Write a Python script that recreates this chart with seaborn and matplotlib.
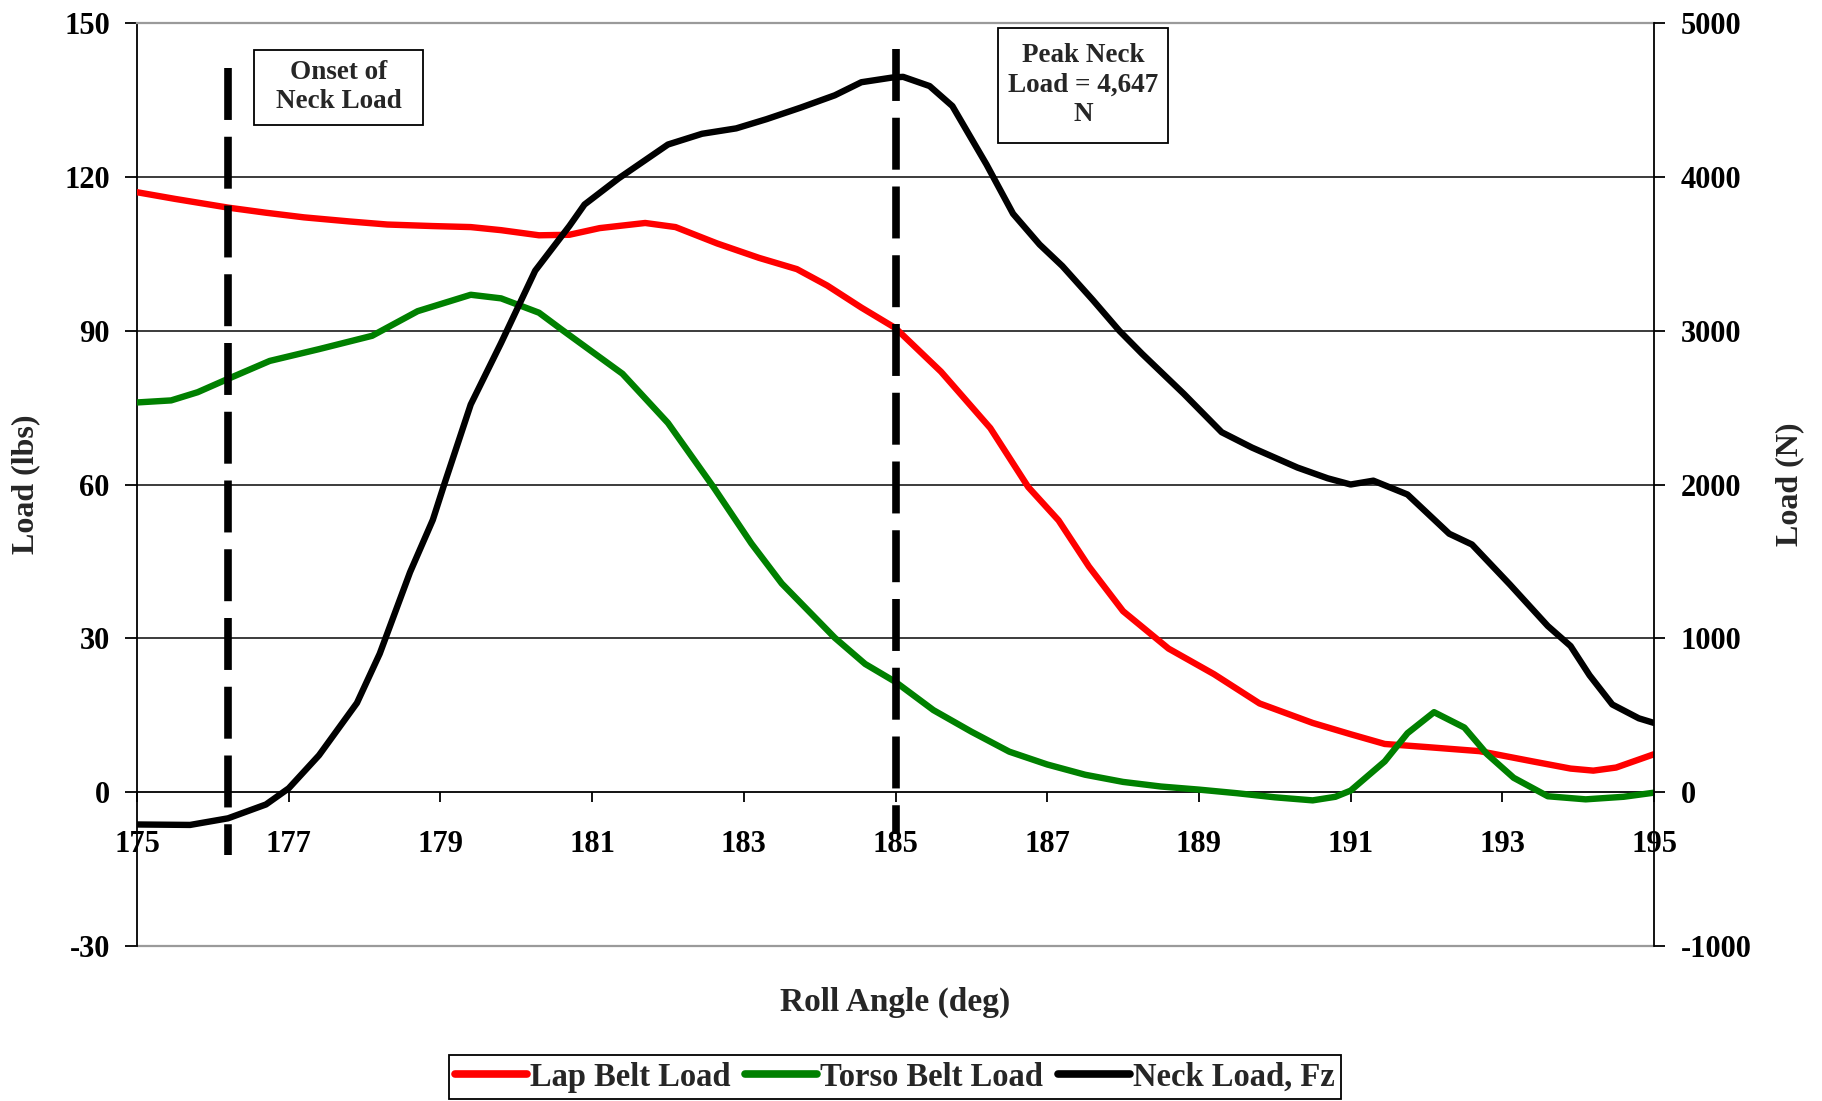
import numpy as np
import pandas as pd
import matplotlib
matplotlib.use("Agg")
import matplotlib.pyplot as plt
import seaborn as sns
from matplotlib.lines import Line2D
from matplotlib.patches import Rectangle

# ---------------- data ----------------
roll_lap = [175.0, 175.5, 176.2, 176.7, 177.2, 177.8, 178.3, 178.9, 179.4, 179.8,
            180.3, 180.7, 181.1, 181.7, 182.1, 182.65, 183.2, 183.7, 184.1, 184.55,
            185.0, 185.6, 186.25, 186.75, 187.15, 187.55, 188.0, 188.6, 189.2, 189.8,
            190.5, 191.0, 191.45, 192.0, 192.7, 193.4, 193.9, 194.2, 194.5, 195.0]
lap_lbs = [117.0, 115.7, 114.0, 113.0, 112.1, 111.3, 110.7, 110.4, 110.2, 109.6,
           108.6, 108.7, 110.0, 111.0, 110.2, 107.0, 104.2, 102.0, 98.8, 94.5,
           90.5, 82.0, 71.0, 59.5, 53.0, 44.0, 35.3, 28.0, 23.0, 17.3,
           13.5, 11.3, 9.4, 8.8, 8.0, 6.0, 4.6, 4.2, 4.8, 7.4]

roll_torso = [175.0, 175.45, 175.8, 176.2, 176.75, 177.4, 178.1, 178.7, 179.4, 179.8,
              180.3, 180.6, 181.4, 182.0, 182.6, 183.1, 183.5, 184.2, 184.6, 185.0,
              185.5, 186.0, 186.5, 187.0, 187.5, 188.0, 188.5, 189.0, 189.5, 190.0,
              190.5, 190.8, 191.0, 191.45, 191.75, 192.1, 192.5, 192.8, 193.15, 193.6,
              194.1, 194.6, 195.0]
torso_lbs = [76.0, 76.4, 78.0, 80.6, 84.1, 86.4, 89.0, 93.8, 97.0, 96.3,
             93.5, 90.2, 81.6, 72.0, 59.5, 48.5, 40.7, 30.1, 25.0, 21.5,
             16.0, 11.8, 7.9, 5.4, 3.4, 2.0, 1.1, 0.5, -0.2, -1.0,
             -1.6, -0.9, 0.3, 6.0, 11.5, 15.6, 12.6, 7.4, 2.8, -0.8,
             -1.4, -0.9, -0.1]

roll_neck = [175.0, 175.7, 176.2, 176.7, 177.0, 177.4, 177.9, 178.2, 178.6, 178.9,
             179.05, 179.4, 179.8, 180.25, 180.7, 180.9, 181.35, 182.0, 182.45, 182.9,
             183.3, 183.75, 184.2, 184.55, 184.95, 185.1, 185.45, 185.75, 186.2, 186.55,
             186.9, 187.2, 187.6, 187.95, 188.25, 188.8, 189.3, 189.7, 190.3, 190.7,
             191.0, 191.3, 191.75, 192.3, 192.6, 193.1, 193.6, 193.9, 194.15, 194.45,
             194.8, 195.0]
neck_n = [-210, -213, -170, -80, 25, 240, 580, 900, 1430, 1770,
          2000, 2520, 2920, 3390, 3680, 3820, 3990, 4210, 4280, 4315,
          4375, 4450, 4530, 4615, 4645, 4650, 4590, 4460, 4080, 3760,
          3560, 3420, 3200, 3000, 2850, 2590, 2340, 2240, 2110, 2040,
          2000, 2025, 1935, 1680, 1610, 1350, 1080, 950, 760, 570,
          480, 450]

series_names = ["Lap Belt Load", "Torso Belt Load", "Neck Load, Fz"]
series_colors = ["#FF0000", "#008000", "#000000"]
x_ticks = [175, 177, 179, 181, 183, 185, 187, 189, 191, 193, 195]
left_ticks = [-30, 0, 30, 60, 90, 120, 150]
right_ticks = [-1000, 0, 1000, 2000, 3000, 4000, 5000]
onset_angle = 176.2
peak_angle = 185.0
onset_text = "Onset of\nNeck Load"
peak_text = "Peak Neck\nLoad = 4,647\nN"

# ---------------- style ----------------
sns.set_style("white")
plt.rcParams['font.family'] = ['Liberation Serif', 'DejaVu Serif']
plt.rcParams['font.weight'] = 'bold'

W, H = 1822, 1101
fig = plt.figure(figsize=(W / 100, H / 100), dpi=100)
ax = fig.add_axes([137 / W, 1 - 946 / H, 1517 / W, 923 / H])
ax2 = ax.twinx()

lap_df = pd.DataFrame({"angle": roll_lap, "load": lap_lbs})
torso_df = pd.DataFrame({"angle": roll_torso, "load": torso_lbs})
neck_df = pd.DataFrame({"angle": roll_neck, "load": neck_n})

lw_curve = 4.6
sns.lineplot(data=lap_df, x="angle", y="load", ax=ax, color=series_colors[0],
             lw=lw_curve, sort=False, estimator=None, zorder=3)
sns.lineplot(data=torso_df, x="angle", y="load", ax=ax, color=series_colors[1],
             lw=lw_curve, sort=False, estimator=None, zorder=3)
sns.lineplot(data=neck_df, x="angle", y="load", ax=ax2, color=series_colors[2],
             lw=lw_curve, sort=False, estimator=None, zorder=3)

ax.set_xlim(175, 195)
ax.set_ylim(-30, 150)
ax2.set_ylim(-1000, 5000)
ax.set_xticks(x_ticks)
ax.set_xticklabels([str(t) for t in x_ticks])
ax.set_yticks(left_ticks)
ax.set_yticklabels([str(t) for t in left_ticks])
ax2.set_yticks(right_ticks)
ax2.set_yticklabels([str(t) for t in right_ticks])
for a in (ax, ax2):
    a.set_xlabel("")
    a.set_ylabel("")
    a.grid(False)

# horizontal gridlines
for v in left_ticks[2:-1]:
    ax.axhline(v, color="#1a1a1a", lw=1.2, zorder=1)
ax.axhline(-30, color="#9a9a9a", lw=1.6, zorder=1, clip_on=False)

# spines
ax.spines["top"].set_color("#9a9a9a")
ax.spines["top"].set_linewidth(1.6)
ax.spines["right"].set_visible(False)
ax.spines["left"].set_color("black")
ax.spines["left"].set_linewidth(1.3)
ax.spines["bottom"].set_position(("data", 0))
ax.spines["bottom"].set_color("black")
ax.spines["bottom"].set_linewidth(1.3)
for s in ("top", "left", "bottom"):
    ax2.spines[s].set_visible(False)
ax2.spines["right"].set_color("black")
ax2.spines["right"].set_linewidth(1.3)

ax.tick_params(axis="y", left=True, direction="out", length=8.6, width=1.3,
               pad=11, labelsize=22, colors="black")
ax.tick_params(axis="x", bottom=True, direction="out", length=7, width=1.3,
               pad=20, labelsize=22, colors="black")
ax2.tick_params(axis="y", right=True, direction="out", length=8, width=1.3,
                pad=11, labelsize=22, colors="black")

# dashed marker lines
dash = (0, (6.8, 2.2))
ax.plot([onset_angle, onset_angle], [141.2, -12.3], color="black", lw=5.5,
        linestyle=dash, zorder=4)
ax.plot([peak_angle, peak_angle], [144.9, -8.2], color="black", lw=5.5,
        linestyle=dash, zorder=4)

# annotation boxes
def ax_x(px):
    return (px - 137) / 1517

def ax_y(py):
    return (946 - py) / 923

for (x0, x1, y0, y1, cx, cy, txt) in [
        (254, 423, 50, 125, 338.5, 87, onset_text),
        (998, 1168, 28, 143, 1083, 85, peak_text)]:
    rect = Rectangle((ax_x(x0), ax_y(y1)), ax_x(x1) - ax_x(x0), ax_y(y0) - ax_y(y1),
                     transform=ax2.transAxes, facecolor="white", edgecolor="black",
                     lw=1.3, zorder=6, clip_on=False)
    ax2.add_patch(rect)
    ax2.text(ax_x(cx), ax_y(cy), txt, transform=ax2.transAxes, ha="center",
             va="center", fontsize=19.5, fontweight="bold", linespacing=1.25,
             zorder=7)

# axis titles
fig.text(26 / W, 1 - 484 / H, "Load (lbs)", rotation=90, ha="center", va="center",
         fontsize=23, fontweight="bold")
fig.text(1790 / W, 1 - 484 / H, "Load (N)", rotation=90, ha="center", va="center",
         fontsize=23, fontweight="bold")
fig.text(895.5 / W, 1 - 1002 / H, "Roll Angle (deg)", ha="center", va="center",
         fontsize=24, fontweight="bold")

# legend
handles = [Line2D([], [], color=c, lw=5.5, solid_capstyle="round") for c in series_colors]
leg = fig.legend(handles, series_names, loc="lower center",
                 bbox_to_anchor=(895 / W, 0.0), ncol=3, frameon=True, fancybox=False,
                 edgecolor="black", framealpha=1, prop={"weight": "bold", "size": 23.5},
                 handlelength=2.2, handletextpad=0.1, columnspacing=0.45,
                 borderpad=0.2, borderaxespad=0.05)
leg.get_frame().set_linewidth(1.3)

fig.savefig("out.png", dpi=100, facecolor="white")
